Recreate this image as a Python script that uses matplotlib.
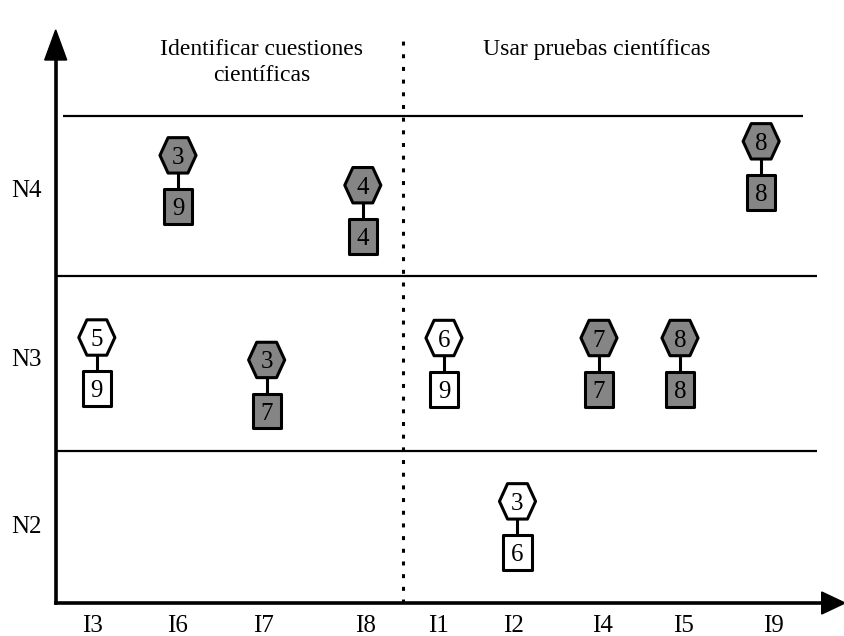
import matplotlib
matplotlib.use("Agg")
import matplotlib.pyplot as plt
from matplotlib.path import Path
from matplotlib.markers import MarkerStyle
from matplotlib.patches import Polygon

plt.rcParams['font.family'] = ['Liberation Serif', 'DejaVu Serif']

# ---------------- data ----------------
categories = ['I3', 'I6', 'I7', 'I8', 'I1', 'I2', 'I4', 'I5', 'I9']
levels = ['N3', 'N4', 'N3', 'N4', 'N3', 'N2', 'N3', 'N3', 'N4']
hex_values = [5, 3, 3, 4, 6, 3, 7, 8, 8]
square_values = [9, 9, 7, 4, 9, 6, 7, 8, 8]
filled = [False, True, True, True, False, False, True, True, True]
level_names = ['N2', 'N3', 'N4']
group_titles = ['Identificar cuestiones\ncientíficas', 'Usar pruebas científicas']

# ---------------- layout ----------------
x_slot = [0.01, 0.985, 2.05, 3.205, 4.18, 5.063, 6.042, 7.015, 7.99]   # marker columns
tick_slot = [-0.036, 0.985, 2.018, 3.243, 4.12, 5.021, 6.09, 7.063, 8.132]  # label columns
level_y = [0.473, 1.485, 2.512]
y_offset = [0.124, 0.201, -0.012, 0.02, 0.121, 0.143, 0.121, 0.121, 0.286]
pair_gap = 0.31
band_lines = [0.924, 1.982, 2.952]
gray = '#858585'

fig = plt.figure(figsize=(8.45, 6.36), dpi=100)
ax = fig.add_axes([55.7 / 845, 33 / 636, (845 - 55.7) / 845, 603 / 636])
x0, x1 = -0.484, 8.997
y0, y1 = 0.0, 3.6545
ax.set_xlim(x0, x1)
ax.set_ylim(y0, y1)

for s in ['top', 'right']:
    ax.spines[s].set_visible(False)
for s in ['left', 'bottom']:
    ax.spines[s].set_linewidth(2.6)
    ax.spines[s].set_capstyle('projecting')
ax.spines['left'].set_bounds(0, 3.30)
ax.spines['bottom'].set_bounds(x0, 8.72)

# arrow heads
ax.add_patch(Polygon([[x0, 3.473], [x0 - 0.132, 3.291], [x0 + 0.132, 3.291]],
                     closed=True, color='black', clip_on=False, zorder=5))
ax.add_patch(Polygon([[x1, 0], [8.717, 0.0667], [8.717, -0.0667]],
                     closed=True, color='black', clip_on=False, zorder=5))

# band lines
ax.hlines(band_lines[2], -0.396, 8.492, color='black', lw=1.6)
ax.hlines(band_lines[:2], x0, 8.66, color='black', lw=1.6)

# dotted divider
xdiv = (x_slot[3] + x_slot[4]) / 2
ax.plot([xdiv, xdiv], [0, 3.44], color='black', lw=2.2,
        linestyle=(0, (1.3, 2.85)), solid_capstyle='butt')

# group titles
ax.text(1.994, 3.321, 'Identificar cuestiones', ha='center', va='baseline', fontsize=17)
ax.text(1.994, 3.164, 'científicas', ha='center', va='baseline', fontsize=17)
ax.text(6.018, 3.321, group_titles[1], ha='center', va='baseline', fontsize=17)

# markers
hex_path = Path([(1, 0), (0.55, 0.98), (-0.55, 0.98), (-1, 0), (-0.55, -0.98),
                 (0.55, -0.98), (1, 0)], closed=True)
sq_path = Path([(0.81, 1), (-0.81, 1), (-0.81, -1), (0.81, -1), (0.81, 1)], closed=True)
hex_marker = MarkerStyle(hex_path, joinstyle='miter')
sq_marker = MarkerStyle(sq_path, joinstyle='miter')

hy = [level_y[level_names.index(l)] + o for l, o in zip(levels, y_offset)]
sy = [h - pair_gap for h in hy]
colors = [gray if f else 'white' for f in filled]

for x, a, b in zip(x_slot, hy, sy):
    ax.plot([x, x], [a, b], color='black', lw=2.2, zorder=2)

ax.scatter(x_slot, hy, s=26.0 ** 2, marker=hex_marker, facecolors=colors,
           edgecolors='black', linewidths=2.2, zorder=3)
ax.scatter(x_slot, sy, s=25.0 ** 2, marker=sq_marker, facecolors=colors,
           edgecolors='black', linewidths=2.2, zorder=3)

for x, a, b, hv, sv in zip(x_slot, hy, sy, hex_values, square_values):
    ax.text(x, a, str(hv), ha='center', va='center_baseline', fontsize=18, zorder=4)
    ax.text(x, b, str(sv), ha='center', va='center_baseline', fontsize=18, zorder=4)

# ticks
ax.set_xticks(tick_slot, categories)
ax.set_yticks(level_y, level_names)
ax.tick_params(axis='x', length=0, pad=9, labelsize=18)
ax.tick_params(axis='y', length=0, pad=10, labelsize=18)

fig.savefig('out.png', dpi=100, facecolor='white')
